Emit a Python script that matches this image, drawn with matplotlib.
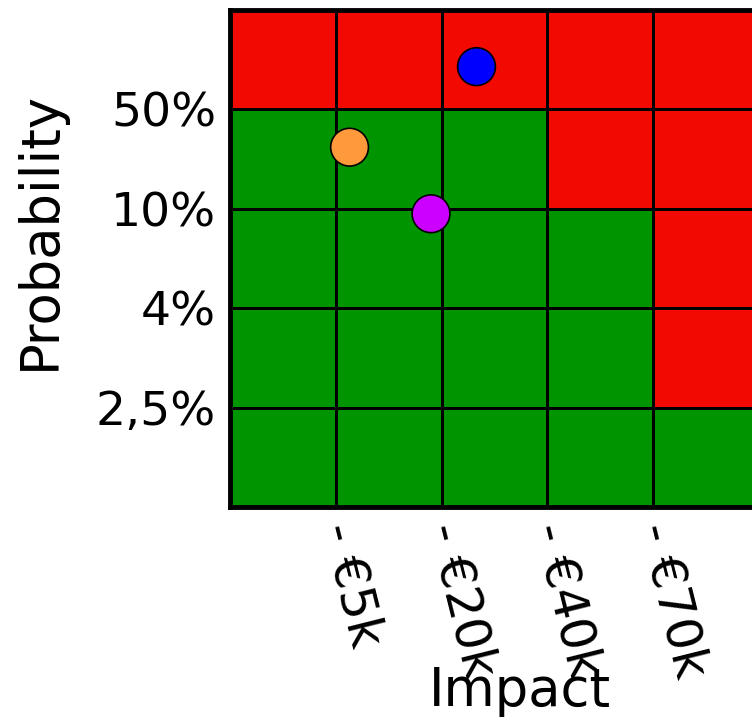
import numpy as np
import matplotlib
matplotlib.use("Agg")
import matplotlib.pyplot as plt
import matplotlib.transforms as mtransforms
from matplotlib.colors import ListedColormap

# Risk matrix: rows from lowest probability (bottom) to highest (top),
# columns from lowest impact (left) to highest (right). 1 = high risk.
risk_grid = [
    [0, 0, 0, 0, 0],
    [0, 0, 0, 0, 1],
    [0, 0, 0, 0, 1],
    [0, 0, 0, 1, 1],
    [1, 1, 1, 1, 1],
]
impact_labels = ["- €5k", "- €20k", "- €40k", "- €70k"]
probability_labels = ["2,5%", "4%", "10%", "50%"]

# Individual risks placed on the matrix (impact, probability in grid units)
risk_x = [1.13, 2.33, 1.90]
risk_y = [3.62, 4.43, 2.95]
risk_colors = ["#ff9a3c", "#0000ff", "#cc00ff"]

plt.rcParams["font.family"] = ["DejaVu Sans"]

fig = plt.figure(figsize=(7.52, 7.21), dpi=100)
ax = fig.add_axes([230 / 752, 1 - 507 / 721, 529 / 752, 497 / 721])

grid = np.array(risk_grid)
cmap = ListedColormap(["#009400", "#f20a02"])
ax.pcolormesh(np.arange(grid.shape[1] + 1), np.arange(grid.shape[0] + 1), grid,
              cmap=cmap, vmin=0, vmax=1, edgecolors="black", linewidth=1.8)

ax.scatter(risk_x, risk_y, s=740, c=risk_colors, edgecolors="black",
           linewidths=1.2, zorder=3, clip_on=False)

ax.set_xlim(0, grid.shape[1])
ax.set_ylim(0, grid.shape[0])

ax.set_xticks(np.arange(1, len(impact_labels) + 1))
ax.set_xticklabels(impact_labels, rotation=-76, rotation_mode="anchor",
                   ha="left", va="center", fontsize=36)
shift = mtransforms.ScaledTranslation(5 / 72, 0, fig.dpi_scale_trans)
for lbl in ax.get_xticklabels():
    lbl.set_transform(lbl.get_transform() + shift)
ax.set_yticks(np.arange(1, len(probability_labels) + 1))
ax.set_yticklabels(probability_labels, fontsize=34)
ax.tick_params(axis="both", length=0)
ax.tick_params(axis="y", pad=10)
ax.tick_params(axis="x", pad=12)

for spine in ax.spines.values():
    spine.set_linewidth(3.5)

ax.set_xlabel("Impact", fontsize=38, va="center")
ax.xaxis.set_label_coords(0.548, -0.37)
ax.set_ylabel("Probability", fontsize=38, va="center")
ax.yaxis.set_label_coords(-0.36, 0.557)

fig.savefig("out.png", dpi=100)
